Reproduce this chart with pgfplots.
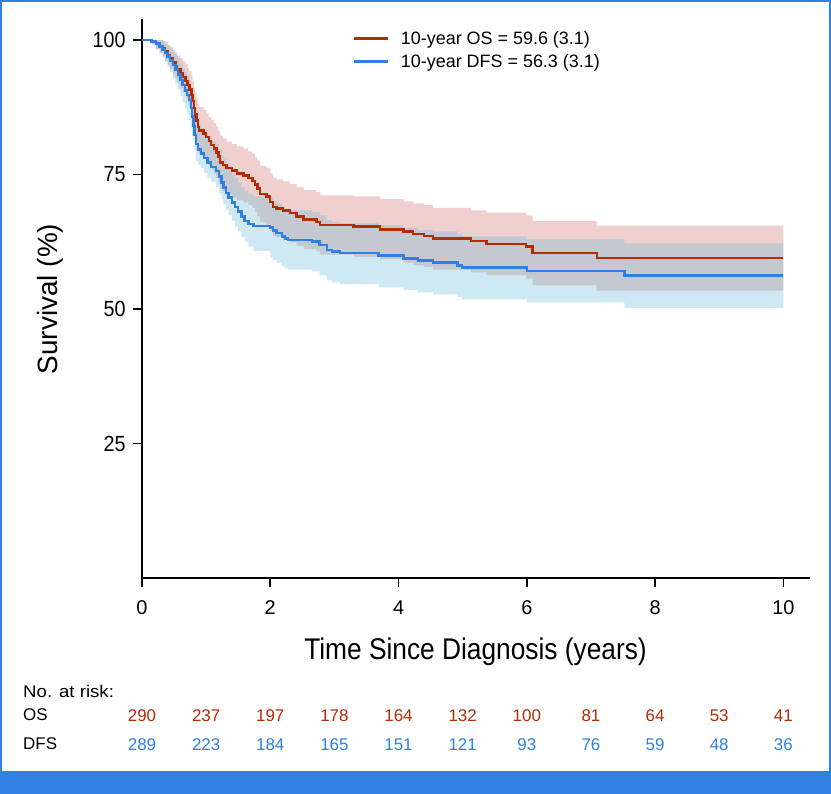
\documentclass[border=0pt]{standalone}
\usepackage{pgfplots}
\usepackage{pgfplotstable}
\pgfplotsset{compat=1.18}
\usepgfplotslibrary{fillbetween}
\usepackage{fontspec}
\setmainfont{Liberation Sans}
\newfontfamily\tickfont[FakeStretch=0.9]{Liberation Sans}
\newfontfamily\labfont[FakeStretch=0.88]{Liberation Sans}
\newfontfamily\widefont[FakeStretch=1.1]{Liberation Sans}
\definecolor{osred}{RGB}{180,44,4}
\definecolor{dfsblue}{RGB}{47,128,224}
\definecolor{ospink}{RGB}{240,208,206}
\definecolor{dfsband}{RGB}{95,182,218}
\definecolor{frameblue}{RGB}{48,129,226}

\pgfplotstableread{
x est lo hi
0.00 100 100 100
0.16 99.7 99.1 100
0.22 99.3 98.3 100
0.28 98.8 97.5 100
0.33 98.4 97.0 99.8
0.36 97.9 96.2 99.6
0.40 97.2 95.3 99.1
0.44 96.6 94.5 98.7
0.48 95.9 93.6 98.2
0.52 95.2 92.7 97.7
0.55 94.5 91.9 97.1
0.60 93.8 91.0 96.6
0.64 93.1 90.2 96.0
0.68 92.4 89.3 95.5
0.71 91.6 88.4 94.8
0.74 90.8 87.4 94.2
0.77 89.8 86.2 93.4
0.79 88.6 84.9 92.3
0.81 87.4 83.6 91.2
0.83 86.2 82.2 90.2
0.85 85.0 80.9 89.1
0.87 83.8 79.6 88.0
0.89 83.2 78.9 87.5
0.96 82.6 78.2 87.0
1.00 81.9 77.5 86.3
1.04 81.2 76.7 85.7
1.08 80.5 75.9 85.1
1.12 79.8 75.1 84.5
1.16 79.1 74.3 83.9
1.19 78.3 73.5 83.1
1.22 77.2 72.3 82.1
1.26 76.8 71.9 81.7
1.32 76.2 71.3 81.1
1.40 75.7 70.7 80.7
1.48 75.2 70.2 80.2
1.58 74.8 69.8 79.8
1.66 74.3 69.3 79.3
1.72 73.8 68.8 78.8
1.76 73.1 68.0 78.2
1.80 72.4 67.2 77.6
1.84 71.4 66.2 76.6
1.94 70.9 65.6 76.2
2.00 69.9 64.6 75.2
2.04 69.0 63.6 74.4
2.10 68.7 63.3 74.1
2.20 68.3 62.9 73.7
2.31 67.8 62.4 73.2
2.41 67.2 61.7 72.7
2.52 66.6 61.1 72.1
2.72 66.2 60.7 71.7
2.78 65.6 60.1 71.1
3.30 65.3 59.7 70.9
3.71 64.8 59.2 70.4
4.08 64.4 58.6 70.0
4.23 63.9 58.1 69.6
4.40 63.6 57.8 69.3
4.54 63.1 57.3 68.8
5.13 62.6 56.8 68.3
5.37 62.1 56.3 67.9
5.99 61.6 55.7 67.4
6.09 60.4 54.4 66.3
7.09 59.5 53.4 65.5
10.0 59.5 53.4 65.5
}\ostab

\pgfplotstableread{
x est lo hi
0.00 100 100 100
0.15 99.7 99.1 100
0.22 99.3 98.3 100
0.27 98.8 97.5 100
0.32 98.2 96.7 99.7
0.36 97.6 95.9 99.3
0.40 96.9 94.9 98.9
0.44 96.2 94.0 98.4
0.48 95.3 92.9 97.7
0.52 94.5 91.9 97.1
0.56 93.6 90.8 96.4
0.60 92.6 89.6 95.6
0.63 91.6 88.4 94.8
0.67 90.6 87.3 93.9
0.70 89.8 86.3 93.3
0.73 88.8 85.1 92.5
0.76 87.4 83.5 91.3
0.78 85.8 82.2 89.8
0.80 84.0 81.0 88.2
0.82 82.3 79.5 86.7
0.84 80.6 77.5 85.1
0.87 79.6 76.8 84.2
0.92 78.9 76.2 83.6
0.97 78.1 75.3 82.9
1.02 77.2 74.4 82.1
1.08 76.4 73.6 81.3
1.15 75.6 72.6 80.6
1.20 74.6 71.5 79.6
1.24 73.5 70.4 78.6
1.27 72.6 69.4 77.8
1.31 71.6 68.4 76.8
1.35 70.7 67.4 76.0
1.40 69.8 66.4 75.1
1.45 68.9 65.3 74.3
1.50 68.1 64.4 73.5
1.55 67.2 63.4 72.6
1.60 66.4 62.5 71.9
1.66 65.8 61.6 71.3
1.74 65.4 60.8 70.9
2.00 65.1 59.6 70.6
2.04 64.6 59.1 70.1
2.10 64.1 58.6 69.6
2.18 63.5 58.0 69.0
2.23 63.1 57.6 68.6
2.28 62.8 57.3 68.3
2.65 62.5 57.0 68.0
2.77 61.9 56.3 67.4
2.88 61.0 55.3 66.5
2.96 60.7 55.0 66.2
3.09 60.4 54.6 66.0
3.69 59.9 54.0 65.6
4.08 59.4 53.5 65.1
4.30 59.0 53.1 64.7
4.54 58.6 52.7 64.4
4.92 58.1 52.2 63.9
4.99 57.7 51.8 63.5
6.00 57.1 51.2 63.0
7.52 56.2 50.2 62.2
10.0 56.2 50.2 62.2
}\dfstab

\begin{document}
\begin{tikzpicture}
\begin{axis}[
  at={(142bp,216bp)}, anchor=south west,
  scale only axis, width=667bp, height=558bp,
  xmin=0, xmax=10.4, ymin=0, ymax=103.7,
  axis x line*=bottom, axis y line*=left,
  axis line style={line width=2.6bp, -, line cap=rect},
  xtick={0,2,4,6,8,10}, ytick={25,50,75,100},
  tick align=outside, major tick length=9bp,
  tick style={line width=1.6bp, black},
  /pgf/number format/assume math mode=true,
  xticklabel style={font=\fontsize{20}{22}\selectfont, yshift=-10bp},
  yticklabel style={font=\tickfont\fontsize{22}{24}\selectfont, xshift=-4bp},
  clip=false,
  xlabel={Time Since Diagnosis (years)},
  xlabel style={font=\labfont\fontsize{30}{34}\selectfont, at={(axis description cs:0.5,-0.1326)}, anchor=center},
  ylabel={Survival (\%)},
  ylabel style={font=\fontsize{28}{32}\selectfont, at={(axis description cs:-0.138,0.5)}, anchor=center},
  legend cell align=left,
  legend style={draw=none, fill=none, at={(axis cs:3.28,98.14)}, anchor=west,
    inner sep=0pt, row sep=8.5bp, font=\fontsize{18}{20}\selectfont, nodes={inner sep=0pt}},
  legend image code/.code={\draw[#1, line width=2.4bp] (0bp,0bp) -- (34bp,0bp); \path (46bp,0bp);},
]
% confidence bands
\addplot[name path=oshi, const plot, draw=none, forget plot] table[x=x,y=hi]{\ostab};
\addplot[name path=oslo, const plot, draw=none, forget plot] table[x=x,y=lo]{\ostab};
\addplot[fill=ospink, draw=none, forget plot] fill between[of=oshi and oslo];
\addplot[name path=dfshi, const plot, draw=none, forget plot] table[x=x,y=hi]{\dfstab};
\addplot[name path=dfslo, const plot, draw=none, forget plot] table[x=x,y=lo]{\dfstab};
\addplot[fill=dfsband, fill opacity=0.3, draw=none, forget plot] fill between[of=dfshi and dfslo];
% survival curves
\addplot[const plot, osred, line width=2.4bp] table[x=x,y=est]{\ostab};
\addlegendentry{10-year OS = 59.6 (3.1)}
\addplot[const plot, dfsblue, line width=2.4bp] table[x=x,y=est]{\dfstab};
\addlegendentry{10-year DFS = 56.3 (3.1)}
% numbers at risk
\addplot[draw=none, mark=none, forget plot, nodes near coords, point meta=explicit symbolic,
  every node near coord/.append style={anchor=center, inner sep=0pt, text=osred, font=\fontsize{17}{20}\selectfont}]
  coordinates {(0,-25.65)[290] (1,-25.65)[237] (2,-25.65)[197] (3,-25.65)[178] (4,-25.65)[164] (5,-25.65)[132] (6,-25.65)[100] (7,-25.65)[81] (8,-25.65)[64] (9,-25.65)[53] (10,-25.65)[41]};
\addplot[draw=none, mark=none, forget plot, nodes near coords, point meta=explicit symbolic,
  every node near coord/.append style={anchor=center, inner sep=0pt, text=dfsblue, font=\fontsize{17}{20}\selectfont}]
  coordinates {(0,-30.9)[289] (1,-30.9)[223] (2,-30.9)[184] (3,-30.9)[165] (4,-30.9)[151] (5,-30.9)[121] (6,-30.9)[93] (7,-30.9)[76] (8,-30.9)[59] (9,-30.9)[48] (10,-30.9)[36]};
\end{axis}
\begin{scope}[font=\fontsize{17}{20}\selectfont]
\node[anchor=west, inner sep=0pt, font=\widefont\fontsize{17}{20}\selectfont] at (23bp,102.3bp) {No. at risk:};
\node[anchor=west, inner sep=0pt] at (23bp,79bp) {OS};
\node[anchor=west, inner sep=0pt] at (23bp,50.7bp) {DFS};
\end{scope}
\fill[frameblue] (0,0) rectangle (831bp,23bp);
\draw[frameblue, line width=2bp] (1bp,0) -- (1bp,793bp) -- (829.5bp,793bp) -- (829.5bp,0);
\pgfresetboundingbox
\useasboundingbox (0,0) rectangle (831bp,794bp);
\end{tikzpicture}
\end{document}
